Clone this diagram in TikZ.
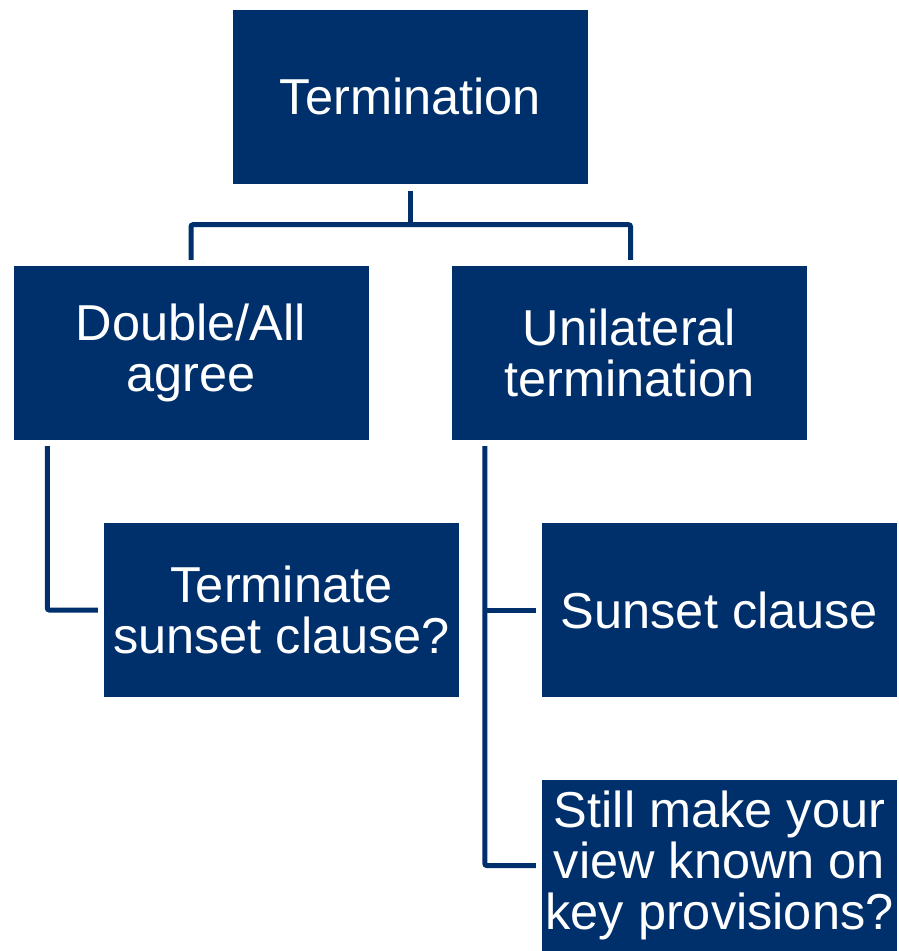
\documentclass[tikz,border=0pt]{standalone}
\usepackage{fontspec}
\setmainfont{Liberation Sans}
\usetikzlibrary{calc}
\definecolor{navy}{RGB}{0,48,108}

\begin{document}
\begin{tikzpicture}[
    x=1pt, y=-1pt,
    node font=\fontsize{50.5}{51}\selectfont,
    topic box/.style={fill=navy, text=white, inner sep=0pt, align=center,
                      minimum width=355pt, minimum height=174pt},
    link/.style={draw=navy, line width=5pt, rounded corners=2pt},
]
\useasboundingbox (0,0) rectangle (898,951);

% === Boxes ===
\node[topic box] (term)  at (410.5,96.5) {Termination};
\node[topic box] (dbl)   at (191,353)    {Double/All\\agree};
\node[topic box] (uni)   at (629.5,353)  {Unilateral\\termination};
\node[topic box] (tsc)   at (281.5,610)  {Terminate\\sunset clause?};
\node[topic box] (sun)   at (719.5,610)  {Sunset clause};
\node[topic box, minimum height=171pt] (still) at (719.5,865.5)
    {Still make your\\view known on\\key provisions?};

% === Connectors ===
\coordinate (fork) at ($(term.south)+(0,41)$);
\draw[link] ($(term.south)+(0,7)$) -- (fork);
\draw[link] ($(dbl.north)+(0,-6)$) |- (fork) -| ($(uni.north)+(1,-6)$);

% left branch
\draw[link] ($(dbl.south west)+(34,6)$) |- ($(tsc.west)+(-6,0)$);

% right branch
\coordinate (spine) at ($(uni.south west)+(33,6)$);
\draw[link] (spine) |- ($(still.west)+(-6,0)$);
\draw[link] (spine |- sun.west) -- ($(sun.west)+(-6,0)$);

\end{tikzpicture}
\end{document}
